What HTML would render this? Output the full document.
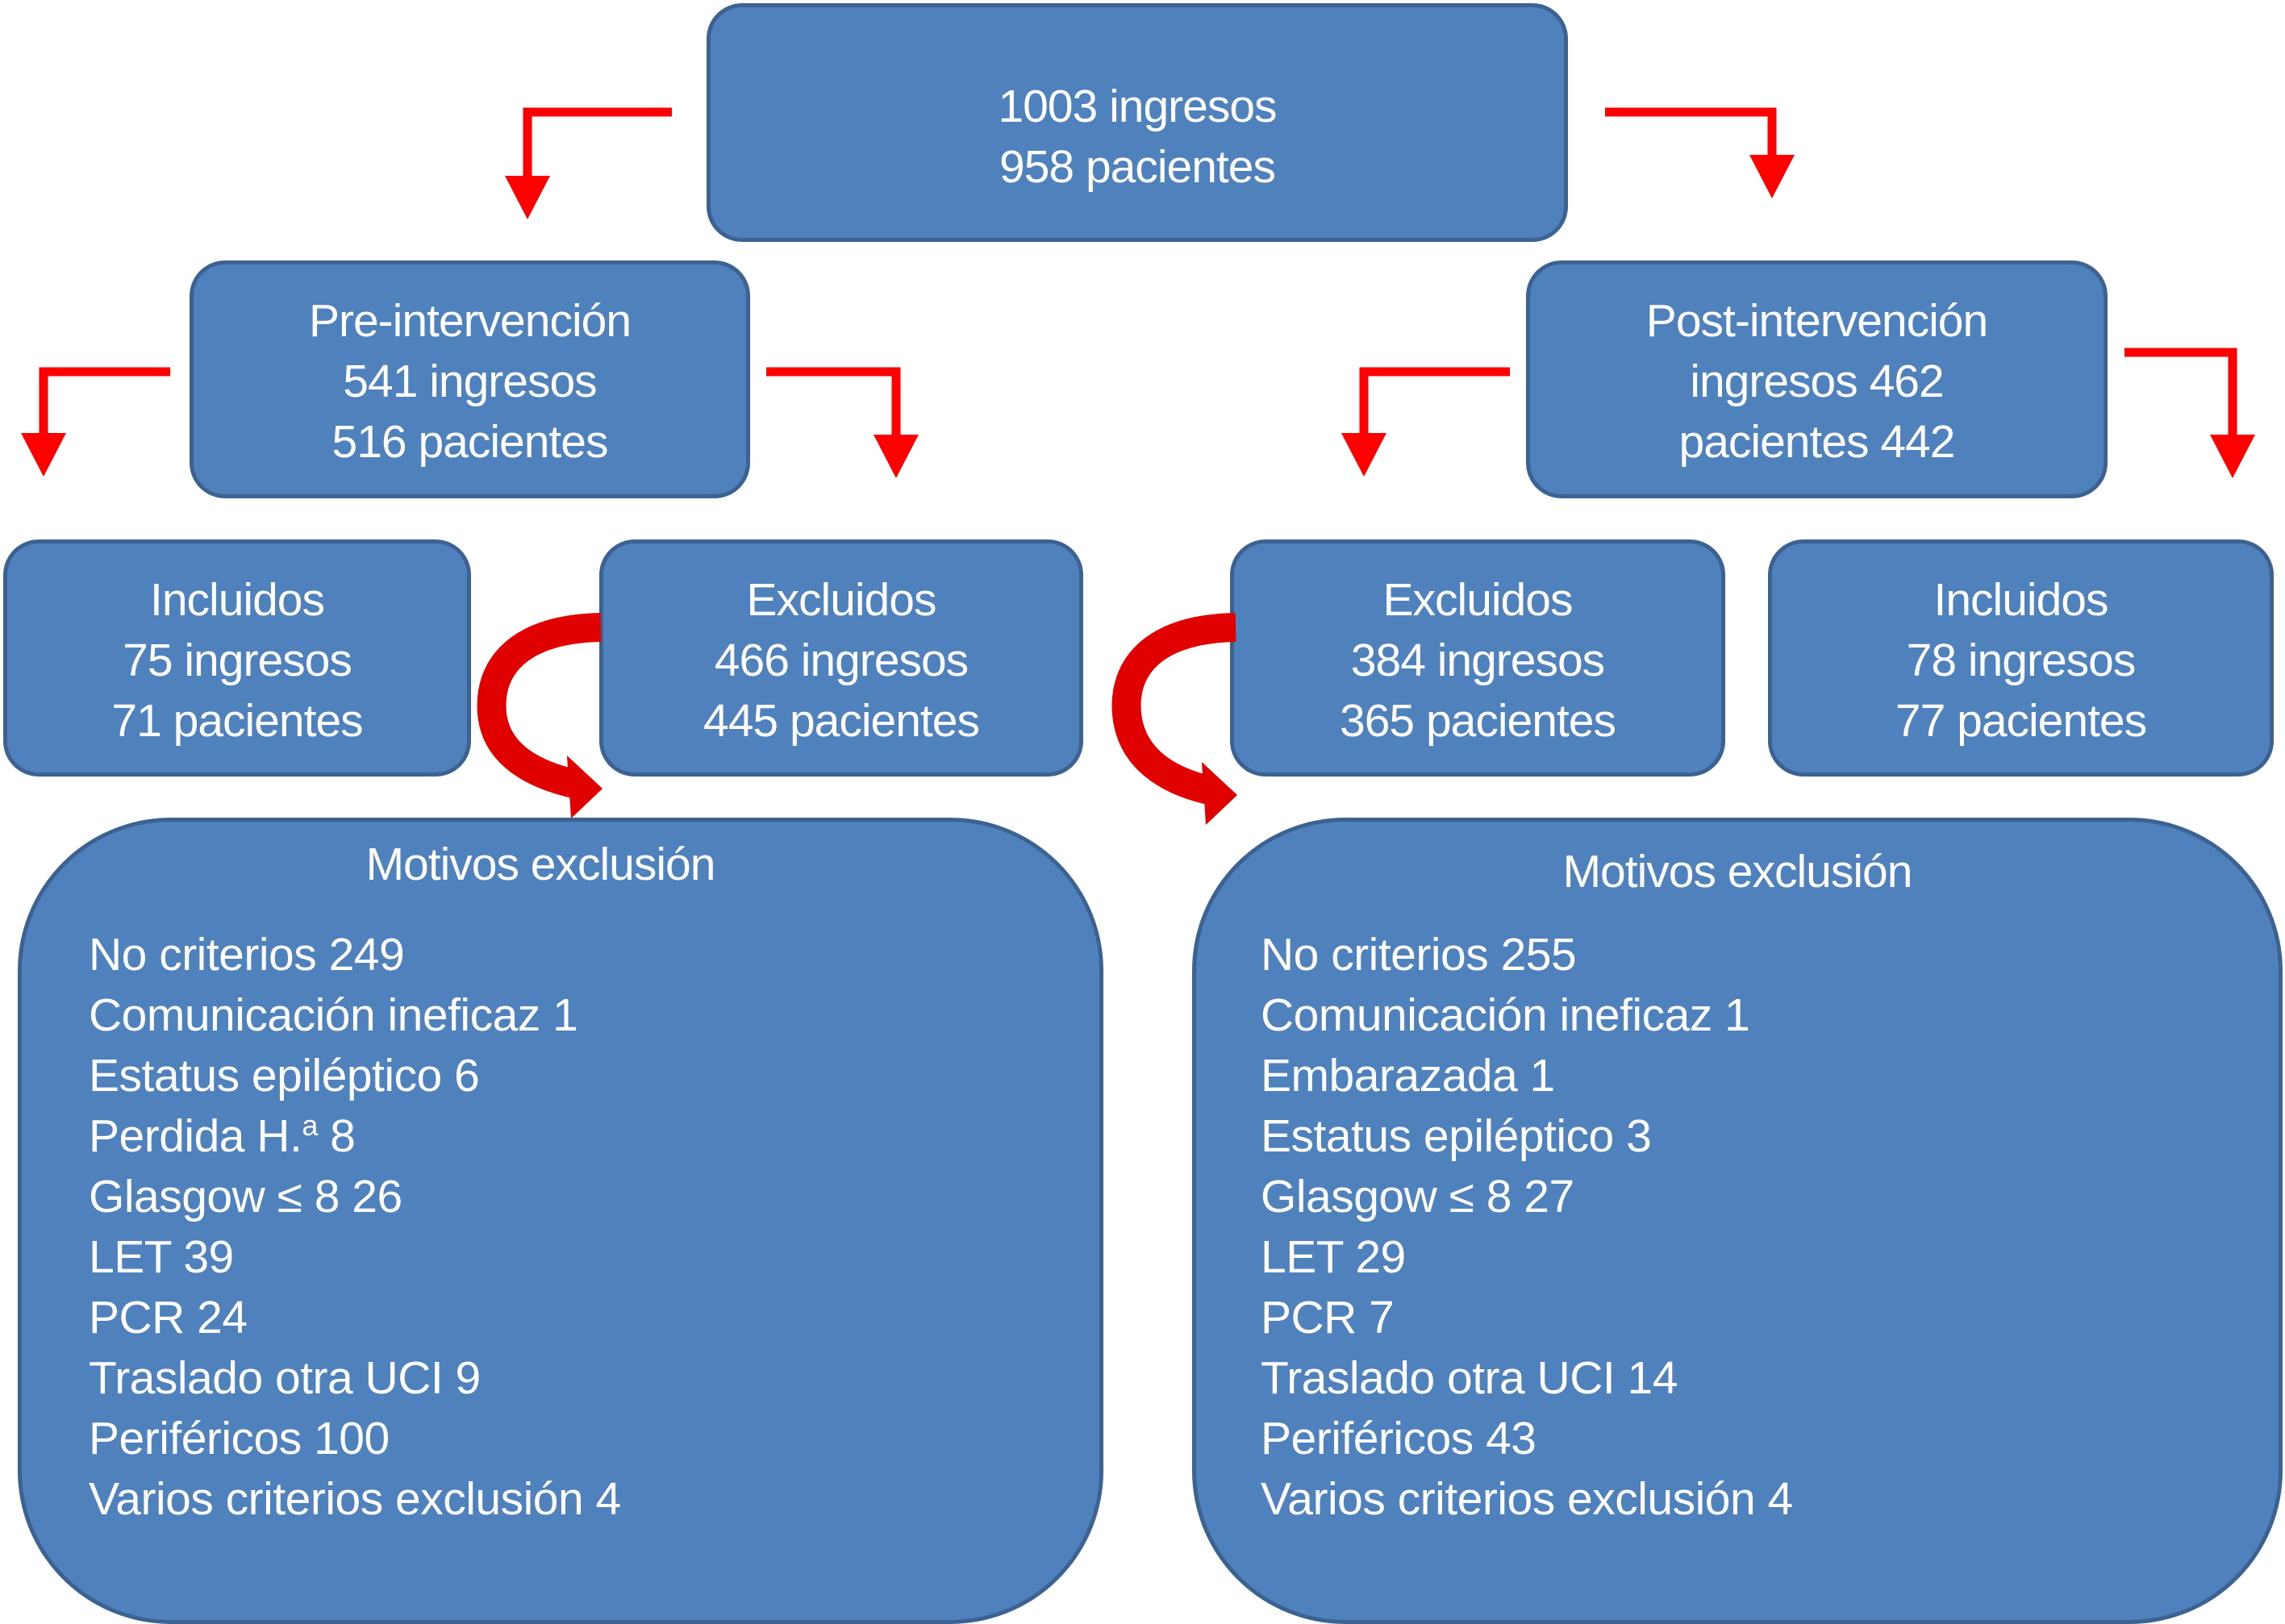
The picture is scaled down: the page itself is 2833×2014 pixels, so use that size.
<!DOCTYPE html>
<html><head><meta charset="utf-8"><style>
html,body{margin:0;padding:0;background:#fff;}
body{width:2833px;height:2007px;position:relative;overflow:hidden;font-family:"Liberation Sans",Arial,sans-serif;color:#fff;}
.b{position:absolute;box-sizing:border-box;background:#4f81bd;border:5px solid #3b6291;border-radius:44px;text-align:center;font-size:57px;line-height:75px;letter-spacing:-1px;}
.b div{position:absolute;left:0;right:0;}
.m{border-radius:190px;}
.l{position:absolute;font-size:57px;line-height:75px;text-align:left;letter-spacing:-0.5px;white-space:nowrap;}
svg{position:absolute;left:0;top:0;}
</style></head><body>
<div class="b" style="left:876px;top:4px;width:1068px;height:296px;"><div style="top:86px">1003 ingresos<br>958 pacientes</div></div>
<div class="b" style="left:235px;top:323px;width:695px;height:295px;"><div style="top:33px">Pre-intervención<br>541 ingresos<br>516 pacientes</div></div>
<div class="b" style="left:1892px;top:323px;width:721px;height:295px;"><div style="top:33px">Post-intervención<br>ingresos 462<br>pacientes 442</div></div>
<div class="b" style="left:4px;top:669px;width:580px;height:294px;"><div style="top:33px">Incluidos<br>75 ingresos<br>71 pacientes</div></div>
<div class="b" style="left:743px;top:669px;width:600px;height:294px;"><div style="top:33px">Excluidos<br>466 ingresos<br>445 pacientes</div></div>
<div class="b" style="left:1525px;top:669px;width:614px;height:294px;"><div style="top:33px">Excluidos<br>384 ingresos<br>365 pacientes</div></div>
<div class="b" style="left:2192px;top:669px;width:627px;height:294px;"><div style="top:33px">Incluidos<br>78 ingresos<br>77 pacientes</div></div>
<div class="b m" style="left:22px;top:1014px;width:1346px;height:1000px;">
<div style="top:16px;left:-50px;">Motivos exclusión</div>
<div class="l" style="left:83px;top:128px;">No criterios 249<br>Comunicación ineficaz 1<br>Estatus epiléptico 6<br>Perdida H.<sup style="font-size:36px;line-height:0">a</sup> 8<br>Glasgow ≤ 8 26<br>LET 39<br>PCR 24<br>Traslado otra UCI 9<br>Periféricos 100<br>Varios criterios exclusión 4</div>
</div>
<div class="b m" style="left:1478px;top:1014px;width:1352px;height:1000px;">
<div style="top:25px;">Motivos exclusión</div>
<div class="l" style="left:80px;top:128px;">No criterios 255<br>Comunicación ineficaz 1<br>Embarazada 1<br>Estatus epiléptico 3<br>Glasgow ≤ 8 27<br>LET 29<br>PCR 7<br>Traslado otra UCI 14<br>Periféricos 43<br>Varios criterios exclusión 4</div>
</div>
<svg width="2833" height="2007" viewBox="0 0 2833 2007">
<g fill="none" stroke="#f00" stroke-width="11">
<path d="M833,139 H654 V225"/>
<path d="M1990,139 H2197 V200"/>
<path d="M211,461 H54 V545"/>
<path d="M950,461 H1111 V545"/>
<path d="M1872,461 H1691 V545"/>
<path d="M2634,437 H2768 V545"/>
</g>
<g fill="#f00">
<polygon points="626,218 682,218 654,272"/>
<polygon points="2169,192 2225,192 2197,246"/>
<polygon points="26,537 82,537 54,591"/>
<polygon points="1083,539 1139,539 1111,593"/>
<polygon points="1663,537 1719,537 1691,591"/>
<polygon points="2740,539 2796,539 2768,593"/>
</g>
<g fill="none" stroke="#e00000" stroke-width="36">
<path d="M745,778 C640,780 605,830 610,885 C615,935 660,960 712,972"/>
<path d="M1532,778 C1427,780 1392,830 1397,885 C1402,940 1447,968 1499,980"/>
</g>
<g fill="#e00000">
<polygon points="703,937 708,1015 747,978"/>
<polygon points="1490,945 1495,1023 1534,986"/>
</g>
</svg>
</body></html>
